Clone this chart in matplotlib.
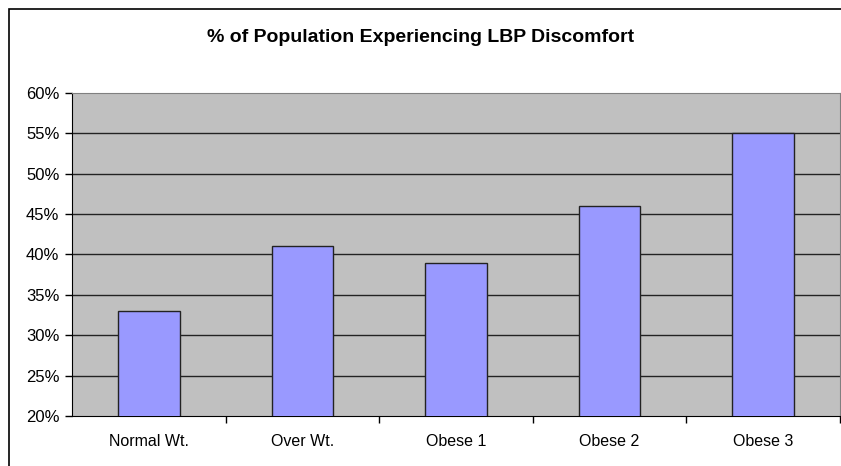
import matplotlib
matplotlib.use('Agg')
import matplotlib.pyplot as plt
from matplotlib.patches import Rectangle
from matplotlib.ticker import FuncFormatter, FixedLocator

categories = ['Normal Wt.', 'Over Wt.', 'Obese 1', 'Obese 2', 'Obese 3']
values = [33, 41, 39, 46, 55]
yticks = [20, 25, 30, 35, 40, 45, 50, 55, 60]

plt.rcParams['font.family'] = ['Liberation Sans', 'DejaVu Sans']

W, H = 841, 466
fig = plt.figure(figsize=(W / 100, H / 100), dpi=100)

# outer chart border (only left and top visible in the reference)
fig.patches.append(Rectangle((9 / W, -0.1), 1.2, (H - 9) / H + 0.1,
                             transform=fig.transFigure, fill=False,
                             edgecolor='black', linewidth=1.2))

ax = fig.add_axes([72 / W, (H - 416) / H, (840 - 72) / W, (416 - 93) / H])
ax.set_facecolor('#C0C0C0')

x = list(range(len(categories)))
ax.bar(x, values, width=0.4, bottom=0, color='#9999FF',
       edgecolor='#222222', linewidth=1.0, zorder=3)

ax.set_xlim(-0.5, len(categories) - 0.5)
ax.set_ylim(20, 60)
ax.set_yticks(yticks)
ax.yaxis.set_major_formatter(FuncFormatter(lambda v, p: f'{v:.0f}%'))
for y in yticks[1:-1]:
    ax.axhline(y, color='#222222', linewidth=1.0, zorder=1)

ax.set_xticks(x)
ax.set_xticklabels(categories)
ax.xaxis.set_minor_locator(FixedLocator([i + 0.5 for i in range(len(categories))]))
ax.tick_params(axis='x', which='major', length=0, pad=13, labelsize=11.5)
ax.tick_params(axis='x', which='minor', length=5, width=1, direction='out')
ax.tick_params(axis='y', length=5, width=1, direction='out', pad=4, labelsize=12)

ax.spines['left'].set_color('black')
ax.spines['bottom'].set_color('black')
ax.spines['top'].set_color('#808080')
ax.spines['right'].set_color('#808080')

fig.text(0.5, (H - 38) / H, '% of Population Experiencing LBP Discomfort',
         ha='center', va='center', fontsize=14, fontweight='bold')

fig.savefig('out.png', dpi=100)
